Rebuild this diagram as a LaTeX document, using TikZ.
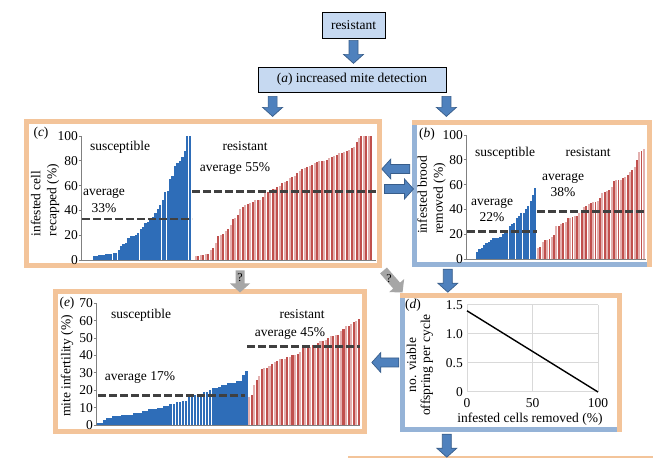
\documentclass[tikz,border=0pt]{standalone}
\usepackage{fontspec}
\setmainfont{Liberation Serif}
\usetikzlibrary{calc}
\definecolor{frameorange}{HTML}{F3C49A}
\definecolor{frameblue}{HTML}{95B3D7}
\definecolor{barblue}{HTML}{2E6DB8}
\definecolor{bardark}{HTML}{C0504D}
\definecolor{barlight}{HTML}{E3B0AF}
\definecolor{boxfill}{HTML}{C6D9F1}
\definecolor{arrowfill}{HTML}{4F81BD}
\definecolor{arrowline}{HTML}{385D8A}
\definecolor{qgray}{HTML}{A6A6A6}
\definecolor{avgline}{HTML}{404040}
\definecolor{gridgray}{HTML}{D9D9D9}
\tikzset{
  lab/.style={inner sep=0pt},
  tick/.style={inner sep=0pt, anchor=east},
  flowbox/.style={draw=black, fill=boxfill, line width=0.8pt, inner sep=0pt},
  panel/.style={inner sep=0pt},
  ofr/.style={draw=frameorange, line width=5pt, line cap=rect},
  bfr/.style={draw=frameblue, line width=5pt, line cap=rect},
  avg/.style={draw=avgline, line width=2.8pt, dash pattern=on 8pt off 3pt},
  axis/.style={draw=gray, line width=0.6pt},
  grid/.style={draw=gridgray, line width=1pt},
  barrow/.style={fill=arrowfill, draw=arrowline, line width=0.7pt},
  qarrow/.style={fill=qgray, draw=none},
  qmark/.style={inner sep=0pt, font=\fontsize{12}{13}\selectfont}
}
% block arrow: start, angle, length
\newcommand{\blockarrow}[4][barrow]{%
  \draw[#1, shift={#2}, rotate=#3]
    (0,-4.5) -- (#4-9,-4.5) -- (#4-9,-10) -- (#4,0) -- (#4-9,10) -- (#4-9,4.5) -- (0,4.5) -- cycle;}
% bar data
\def\suscC{3,3,4,4,4,5,5,5,6,6,8,11,13,14,18,19,19,20,22,25,27,30,31,32,35,38,41,44,48,55,56,65,68,76,78,80,83,88,100,100}
\def\resC{3,3,4,4,5,5,8,10,14,19,20,21,23,25,28,33,34,36,41,43,44,45,46,47,48,48,48,51,54,55,55,57,57,59,60,62,63,64,66,67,68,70,72,73,74,75,76,77,78,79,80,80,80,81,82,83,84,85,86,86,87,88,89,90,91,95,98,100,100,100,100,100}
\def\suscB{6,8,9,11,13,14,15,17,17,17,18,20,21,21,27,28,29,33,35,37,37,40,43,47,52,57}
\def\resB{9,10,14,15,15,16,18,19,27,27,28,29,30,33,33,34,35,35,37,38,42,43,44,45,46,46,47,49,53,54,55,56,58,63,64,64,64,65,66,68,70,72,74,80,86,87,89}
\def\suscE{1,1,3,4,4,5,5,5,6,6,6,6,7,7,7,8,8,9,9,9,10,10,11,11,12,12,13,13,14,14,16,16,17,18,18,19,19,20,21,21,22,23,23,24,24,24,25,25,29,31}
\def\resE{16,17,23,26,28,32,33,33,34,35,36,37,38,38,38,39,39,40,40,41,42,44,44,45,45,46,46,47,48,48,49,50,51,51,52,52,54,55,57,57,58,59,60,61}

\begin{document}
\begin{tikzpicture}[x=1pt, y=1pt, font=\fontsize{13.5}{16}\selectfont]
\useasboundingbox (0,0) rectangle (667,458);

% flow boxes
\node[flowbox, minimum width=63pt, minimum height=26pt] (top) at (353.5,433) {resistant};
\node[flowbox, minimum width=188pt, minimum height=25pt] (detect) at (352,378.5) {(\textit{a}) increased mite detection};

% panel frames
\node[panel, ofr, minimum width=353pt, minimum height=144pt] (pc) at (203,264.5) {};
\node[panel, minimum width=235pt, minimum height=142pt] (pb) at (532,264.5) {};
\draw[bfr] (pb.north west) -- (pb.south west) -- (pb.south east);
\draw[ofr] (pb.north west) -- (pb.north east) -- (pb.south east);
\node[panel, ofr, minimum width=309pt, minimum height=140pt] (pe) at (210,96.5) {};
\node[panel, minimum width=217pt, minimum height=134pt] (pd) at (511,95.5) {};
\draw[bfr] (pd.north west) -- (pd.south west) -- (pd.south east);
\draw[ofr] (pd.north west) -- (pd.north east) -- (pd.south east);
\coordinate (nextl) at (348,1);
\coordinate (nextr) at (653,1);
\draw[frameorange, line width=1.5pt] (nextl) -- (nextr);

% (c) recapped cells
\begin{scope}[shift={(81,198)}]
  \foreach \v [count=\i from 0] in \suscC
    \fill[barblue] (12+\i*2.45,0) rectangle ++(2.3,\v*1.24);
  \foreach \v [count=\i] in \resC {
    \ifodd\i \def\bc{barlight}\else\def\bc{bardark}\fi
    \fill[\bc] (111.5+\i*2.47,0) rectangle ++(2.0,\v*1.24);
  }
  \draw[axis] (0,124) -- (0,0) -- (295,0);
  \foreach \v in {0,20,...,100} {
    \draw[axis] (-2.5,\v*1.24) -- (0,\v*1.24);
    \node[tick] at (-3,\v*1.24) {\v};
  }
  \draw[avg] (1,33*1.24) -- (111,33*1.24);
  \draw[avg] (111,55*1.24) -- (295,55*1.24);
\end{scope}
\node[lab] (clbl) at (41,325) {(\textit{c})};
\node[lab] (csus) at (120,311) {susceptible};
\node[lab] (cres) at (245,312) {resistant};
\node[lab] (cavgr) at (235,290) {average 55\%};
\node[lab, align=center, font=\fontsize{13.5}{17}\selectfont] (cavgs) at (104,257.5) {average\\33\%};
\node[lab, rotate=90, align=left] (cy) at (45,258) {infested cell\\recapped (\%)};

% (b) removed brood
\begin{scope}[shift={(466,199)}]
  \foreach \v [count=\i from 0] in \suscB
    \fill[barblue] (10+\i*2.33,0) rectangle ++(2.2,\v*1.24);
  \foreach \v [count=\i] in \resB {
    \ifodd\i \def\bc{barlight}\else\def\bc{bardark}\fi
    \fill[\bc] (68.7+\i*2.3,0) rectangle ++(1.9,\v*1.24);
  }
  \draw[axis] (0,124) -- (0,0) -- (180,0);
  \foreach \v in {0,20,...,100} {
    \draw[axis] (-2.5,\v*1.24) -- (0,\v*1.24);
    \node[tick] at (-3,\v*1.24) {\v};
  }
  \draw[avg] (1,22*1.24) -- (71,22*1.24);
  \draw[avg] (71,38*1.24) -- (180,38*1.24);
\end{scope}
\node[lab] (blbl) at (427,324) {(\textit{b})};
\node[lab] (bsus) at (505,305) {susceptible};
\node[lab] (bres) at (588,306) {resistant};
\node[lab, align=center, font=\fontsize{13.5}{16}\selectfont] (bavgr) at (563,272.5) {average\\38\%};
\node[lab, align=center, font=\fontsize{13.5}{16}\selectfont] (bavgs) at (492,247.5) {average\\22\%};
\node[lab, rotate=90, align=left] (by) at (431.5,263) {infested brood\\removed (\%)};

% (e) mite infertility
\begin{scope}[shift={(96,33)}]
  \foreach \v [count=\i from 0] in \suscE
    \fill[barblue] (1+\i*3.02,0) rectangle ++(2.75,\v*1.74);
  \foreach \v [count=\i] in \resE {
    \ifodd\i \def\bc{barlight}\else\def\bc{bardark}\fi
    \fill[\bc] (149.5+\i*2.55,0) rectangle ++(2.1,\v*1.74);
  }
  \draw[axis] (0,122) -- (0,0) -- (264,0);
  \foreach \v in {0,10,...,70} {
    \draw[axis] (-2.5,\v*1.74) -- (0,\v*1.74);
    \node[tick] at (-3,\v*1.74) {\v};
  }
  \draw[avg] (2,17*1.74) -- (149,17*1.74);
  \draw[avg] (151,45*1.74) -- (264,45*1.74);
\end{scope}
\node[lab] (elbl) at (67,155) {(\textit{e})};
\node[lab] (esus) at (141,143) {susceptible};
\node[lab] (eres) at (302,144) {resistant};
\node[lab] (eavgr) at (290,125) {average 45\%};
\node[lab] (eavgs) at (140,81) {average 17\%};
\node[lab, rotate=90] (ey) at (67,92) {mite infertility (\%)};

% (d) offspring per cycle
\begin{scope}[shift={(467,66)}]
  \foreach \x in {0,50,100} \draw[grid] (\x*1.31,0) -- (\x*1.31,87);
  \foreach \y in {0,0.5,1,1.5} \draw[grid] (0,\y*58) -- (131,\y*58);
  \draw[line width=1.4pt] (0,1.4*58) -- (131,0);
  \foreach \y/\t in {0/0,0.5/0.5,1/1.0,1.5/1.5}
    \node[tick] at (-4,\y*58) {\t};
  \foreach \x in {0,50,100}
    \node[lab] at (\x*1.31,-11) {\x};
\end{scope}
\node[lab] (dlbl) at (413,153) {(\textit{d})};
\node[lab] (dx) at (530,39) {infested cells removed (\%)};
\node[lab, rotate=90, align=center, font=\fontsize{13.5}{14}\selectfont] (dy) at (420,93) {no. viable\\offspring per cycle};

% block arrows
\blockarrow{($(top.south)+(0,-2)$)}{-90}{23}
\blockarrow{($(detect.south west)+(15,-4)$)}{-90}{20}
\blockarrow{($(detect.south east)+(0,-4)$)}{-90}{20}
\blockarrow{($(pb.west)+(-4.5,24.5)$)}{180}{28}
\blockarrow{($(pc.east)+(2.5,4.5)$)}{0}{29}
\blockarrow{($(pb.south west)+(33.5,-4.5)$)}{-90}{23}
\blockarrow{($(pd.west)+(-3.5,0)$)}{180}{27}
\blockarrow{($(pd.south west)+(44.5,-4.5)$)}{-90}{23}

% uncertain links
\blockarrow[qarrow]{($(pc.south)+(37,-2.5)$)}{-90}{22}
\blockarrow[qarrow]{($(pc.south east)+(1.5,-2.5)$)}{-49}{29}
\node[qmark] (q1) at (240,180) {?};
\node[qmark] (q2) at (389,179) {?};
\end{tikzpicture}
\end{document}
